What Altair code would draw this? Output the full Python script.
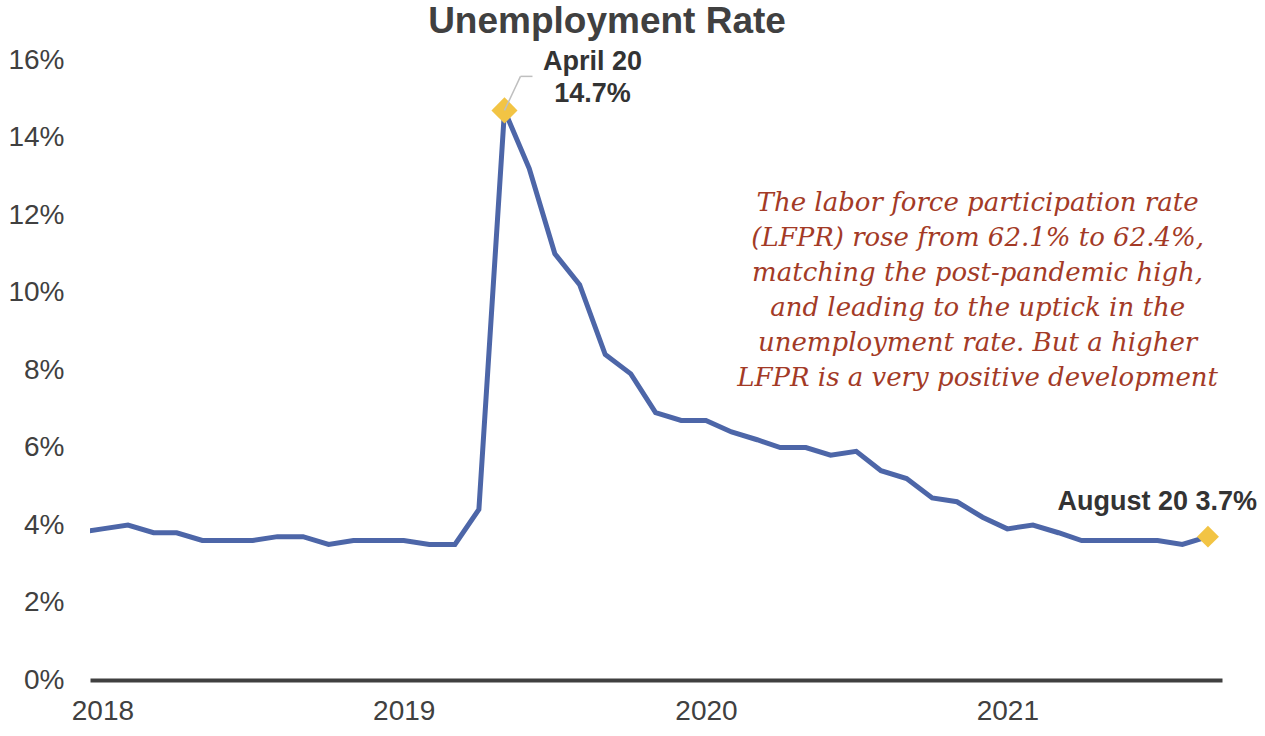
import altair as alt
import pandas as pd

# ---- data ----
months = [
    "2018-11", "2018-12",
    "2019-01", "2019-02", "2019-03", "2019-04", "2019-05", "2019-06",
    "2019-07", "2019-08", "2019-09", "2019-10", "2019-11", "2019-12",
    "2020-01", "2020-02", "2020-03", "2020-04", "2020-05", "2020-06",
    "2020-07", "2020-08", "2020-09", "2020-10", "2020-11", "2020-12",
    "2021-01", "2021-02", "2021-03", "2021-04", "2021-05", "2021-06",
    "2021-07", "2021-08", "2021-09", "2021-10", "2021-11", "2021-12",
    "2022-01", "2022-02", "2022-03", "2022-04", "2022-05", "2022-06",
    "2022-07", "2022-08",
]
rates = [
    3.8, 3.9,
    4.0, 3.8, 3.8, 3.6, 3.6, 3.6, 3.7, 3.7, 3.5, 3.6, 3.6, 3.6,
    3.5, 3.5, 4.4, 14.7, 13.2, 11.0, 10.2, 8.4, 7.9, 6.9, 6.7, 6.7,
    6.4, 6.2, 6.0, 6.0, 5.8, 5.9, 5.4, 5.2, 4.7, 4.6, 4.2, 3.9,
    4.0, 3.8, 3.6, 3.6, 3.6, 3.6, 3.5, 3.7,
]

peak_month = "2020-04"
peak_text = "April 20\n14.7%"
last_month = "2022-08"
last_text = "August 20 3.7%"

note_lines = [
    "The labor force participation rate",
    "(LFPR) rose from 62.1% to 62.4%,",
    "matching the post-pandemic high,",
    "and leading to the uptick in the",
    "unemployment rate. But a higher",
    "LFPR is a very positive development",
]
note_date = "2021-10-26"
note_value = 12.1

year_ticks = [2018, 2019, 2020, 2021]
y_ticks = [0, 2, 4, 6, 8, 10, 12, 14, 16]

# ---- tables ----
df = pd.DataFrame({"date": pd.to_datetime(months), "rate": rates})
peak_df = df[df["date"] == pd.to_datetime(peak_month)].assign(label=peak_text)
last_df = df[df["date"] == pd.to_datetime(last_month)].assign(label=last_text)
note_df = pd.DataFrame({"date": [pd.to_datetime(note_date)], "rate": [note_value],
                        "label": ["\n".join(note_lines)]})

FONT = "Liberation Sans"
AX = "#404040"

x_scale = alt.Scale(domain=[alt.DateTime(year=2018, month=11, date=16),
                            alt.DateTime(year=2022, month=8, date=18)])
y_scale = alt.Scale(domain=[0, 16], nice=False)

x_enc = alt.X("date:T", scale=x_scale, title=None,
              axis=alt.Axis(values=[alt.DateTime(year=y, month=12, date=1) for y in year_ticks],
                            format="%Y", grid=False, ticks=False,
                            domainColor=AX, domainWidth=4,
                            labelFont=FONT, labelFontSize=28, labelColor=AX,
                            labelPadding=17, labelAlign="center"))
y_enc = alt.Y("rate:Q", scale=y_scale, title=None,
              axis=alt.Axis(values=y_ticks, labelExpr="datum.value + '%'",
                            grid=False, ticks=False, domain=False,
                            labelFont=FONT, labelFontSize=28, labelColor=AX,
                            labelPadding=26))

line = alt.Chart(df).mark_line(color="#4D66A8", strokeWidth=5, clip=True).encode(x=x_enc, y=y_enc)

peak_diamond = alt.Chart(peak_df).mark_point(shape="diamond", filled=True, size=680,
                                             color="#F2C444", opacity=1).encode(x="date:T", y="rate:Q")
last_diamond = alt.Chart(last_df).mark_point(shape="diamond", filled=True, size=480,
                                             color="#F2C444", opacity=1).encode(x="date:T", y="rate:Q")

leader1 = alt.Chart(peak_df).mark_rule(color="#BFBFBF", strokeWidth=1.5,
                                       x2Offset=16, y2Offset=-34).encode(
    x="date:T", y="rate:Q", x2="date:T", y2="rate:Q")
leader2 = alt.Chart(peak_df).mark_rule(color="#BFBFBF", strokeWidth=1.5,
                                       xOffset=16, yOffset=-34, x2Offset=28, y2Offset=-34).encode(
    x="date:T", y="rate:Q", x2="date:T", y2="rate:Q")

peak_label = alt.Chart(peak_df).mark_text(
    font=FONT, fontSize=27, fontWeight="bold", color="#333333",
    align="center", baseline="alphabetic", dx=88, dy=-40, lineHeight=32, lineBreak="\n"
).encode(x="date:T", y="rate:Q", text="label:N")

last_label = alt.Chart(last_df).mark_text(
    font=FONT, fontSize=27, fontWeight="bold", color="#333333",
    align="right", baseline="alphabetic", dx=49, dy=-27
).encode(x="date:T", y="rate:Q", text="label:N")

note = alt.Chart(note_df).mark_text(
    font="DejaVu Serif", fontStyle="italic", fontSize=26, color="#A33A26",
    align="center", baseline="alphabetic", lineHeight=35, lineBreak="\n"
).encode(x="date:T", y="rate:Q", text="label:N")

chart = alt.layer(line, peak_diamond, last_diamond, leader1, leader2,
                  peak_label, last_label, note).properties(
    width=1132, height=620,
    background="white",
    title=alt.Title("Unemployment Rate", font=FONT, fontSize=37, fontWeight="bold",
                    color=AX, anchor="middle", frame="group", dx=-49, offset=12, dy=36,
                    baseline="alphabetic"),
    autosize=alt.AutoSizeParams(type="none"),
    padding={"left": 90, "top": 60, "right": 43, "bottom": 56},
).configure_view(stroke=None, strokeOpacity=0, strokeWidth=0)

chart.save("out.html", embed_options={"renderer": "svg", "actions": False})
